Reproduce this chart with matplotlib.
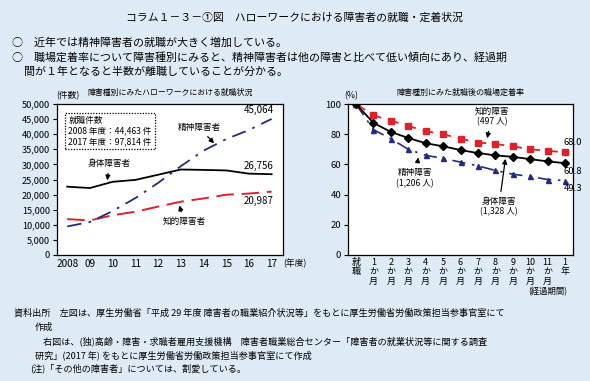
import matplotlib
matplotlib.use("Agg")
import matplotlib.pyplot as plt

plt.rcParams['font.family'] = ['Noto Sans CJK JP', 'DejaVu Sans']

W, H = 590, 381
BG = '#DEEAF6'
RED = '#E0202B'
NAVY = '#232A82'

# ---- data: left chart (件数) ----
years = ['2008', '09', '10', '11', '12', '13', '14', '15', '16', '17']
shintai = [22623, 22172, 24241, 24864, 26573, 28307, 28175, 28003, 26940, 26756]
chiteki = [11889, 11440, 13164, 14327, 16030, 17649, 18723, 19958, 20342, 20987]
seishin = [9456, 10929, 14555, 18845, 23861, 29404, 34538, 38396, 41367, 45064]
left_yticks = [0, 5000, 10000, 15000, 20000, 25000, 30000, 35000, 40000, 45000, 50000]

# ---- data: right chart (%) ----
periods = ['就\n職', '1\nか\n月', '2\nか\n月', '3\nか\n月', '4\nか\n月', '5\nか\n月',
           '6\nか\n月', '7\nか\n月', '8\nか\n月', '9\nか\n月', '10\nか\n月', '11\nか\n月', '1\n年']
r_chiteki = [100, 92.5, 89.0, 85.5, 82.0, 80.0, 77.0, 74.5, 73.5, 72.0, 70.0, 69.0, 68.0]
r_shintai = [100, 87.5, 81.5, 77.5, 74.0, 72.0, 69.5, 67.5, 66.0, 65.0, 63.5, 62.0, 60.8]
r_seishin = [100, 83.0, 77.0, 70.0, 66.0, 64.0, 61.5, 59.0, 56.0, 53.5, 52.0, 50.0, 49.3]
right_yticks = [0, 20, 40, 60, 80, 100]

fig = plt.figure(figsize=(W / 100, H / 100), dpi=100, facecolor=BG)


def px(x, y):
    return x / W, 1 - y / H


def t(x, y, s, **kw):
    kw.setdefault('fontsize', 7)
    kw.setdefault('va', 'center')
    fig.text(*px(x, y), s, **kw)


def add_ax(l, r, top, bot):
    return fig.add_axes([l / W, 1 - bot / H, (r - l) / W, (bot - top) / H])


# header texts
t(295, 17, 'コラム１－３－①図　ハローワークにおける障害者の就職・定着状況', fontsize=7.8, ha='center')
t(12, 43, '○　近年では精神障害者の就職が大きく増加している。', fontsize=7.9)
t(12, 57, '○　職場定着率について障害種別にみると、精神障害者は他の障害と比べて低い傾向にあり、経過期', fontsize=7.9)
t(24, 72, '間が１年となると半数が離職していることが分かる。', fontsize=7.9)

# footer texts
FS = 6.55
t(14, 313, '資料出所　左図は、厚生労働省「平成 29 年度 障害者の職業紹介状況等」をもとに厚生労働省労働政策担当参事官室にて', fontsize=FS)
t(35, 327, '作成', fontsize=FS)
t(43, 341, '右図は、(独)高齢・障害・求職者雇用支援機構　障害者職業総合センター「障害者の就業状況等に関する調査', fontsize=FS)
t(35, 355, '研究」(2017 年) をもとに厚生労働省労働政策担当参事官室にて作成', fontsize=FS)
t(30, 368, '(注)「その他の障害者」については、割愛している。', fontsize=FS)

arrow = dict(arrowstyle='-|>', color='black', lw=0.9, mutation_scale=7)

# ---------------- left chart ----------------
ax = add_ax(57, 283, 104, 255)
x = list(range(len(years)))
ax.plot(x, shintai, color='black', lw=1.3, ls='-')
ax.plot(x, chiteki, color=RED, lw=1.4, ls=(0, (9, 4)))
ax.plot(x, seishin, color=NAVY, lw=1.3, ls=(0, (8, 4, 1.5, 4)))
ax.set_xlim(-0.45, 9.5)
ax.set_ylim(0, 50000)
ax.set_yticks(left_yticks)
ax.set_yticklabels([f'{v:,}' for v in left_yticks], fontsize=6.6)
ax.set_xticks(x)
ax.set_xticklabels(years, fontsize=7.2)
ax.tick_params(axis='x', length=0, pad=3)
ax.tick_params(axis='y', length=3, pad=2, width=0.8)
for s in ax.spines.values():
    s.set_linewidth(0.9)
ax.set_facecolor('white')

t(68, 96, '(件数)', fontsize=6.3, ha='center')
t(170, 92, '障害種別にみたハローワークにおける就職状況', fontsize=5.7, ha='center')
t(295, 263, '(年度)', fontsize=6.3, ha='center')

# dotted info box
ax.text(0.05, 0.92, '就職件数\n2008 年度：44,463 件\n2017 年度：97,814 件', transform=ax.transAxes,
        fontsize=6.2, va='top', ha='left', linespacing=1.2,
        bbox=dict(boxstyle='square,pad=0.35', fc='white', ec='black', ls=(0, (1, 1.2)), lw=0.9))

ax.text(9.1, seishin[-1] + 2800, f'{seishin[-1]:,}', fontsize=7, ha='right', va='center')
ax.text(9.1, shintai[-1] + 2800, f'{shintai[-1]:,}', fontsize=7, ha='right', va='center')
ax.text(9.1, chiteki[-1] - 3200, f'{chiteki[-1]:,}', fontsize=7, ha='right', va='center')

ax.annotate('精神障害者', xy=(6.55, 36300), xytext=(5.8, 42300), fontsize=6.2, ha='center', va='center',
            arrowprops=arrow)
ax.annotate('身体障害者', xy=(1.75, 23800), xytext=(1.85, 30300), fontsize=6.2, ha='center', va='center',
            arrowprops=arrow)
ax.annotate('知的障害者', xy=(4.9, 17300), xytext=(5.15, 11000), fontsize=6.2, ha='center', va='center',
            arrowprops=arrow)

# ---------------- right chart ----------------
ax2 = add_ax(348, 573, 104, 255)
xr = list(range(len(periods)))
ax2.plot(xr, r_seishin, color=NAVY, lw=1.2, ls=(0, (8, 4, 1.5, 4)), marker='^', ms=3.6, mec=NAVY, mfc=NAVY)
ax2.plot(xr, r_chiteki, color=RED, lw=1.3, ls=(0, (6, 4)), marker='s', ms=4.6, mec=RED, mfc=RED)
ax2.plot(xr, r_shintai, color='black', lw=1.3, ls='-', marker='D', ms=4.2, mec='black', mfc='black')
ax2.set_xlim(-0.46, 12.46)
ax2.set_ylim(0, 100)
ax2.set_yticks(right_yticks)
ax2.set_yticklabels([str(v) for v in right_yticks], fontsize=6.8)
ax2.set_xticks(xr)
ax2.set_xticklabels(periods, fontsize=6.5, linespacing=1.05, va='top')
ax2.tick_params(axis='x', length=0, pad=2)
ax2.tick_params(axis='y', length=3, pad=2, width=0.8)
for s in ax2.spines.values():
    s.set_linewidth(0.9)
ax2.set_facecolor('white')

t(351, 96, '(%)', fontsize=6.3, ha='center')
t(460, 92, '障害種別にみた就職後の職場定着率', fontsize=5.8, ha='center')
t(548, 292, '(経過期間)', fontsize=6.0, ha='center')

ax2.text(12.45, r_chiteki[-1] + 6.5, f'{r_chiteki[-1]:.1f}', fontsize=6.8, ha='center', va='center')
ax2.text(12.45, r_shintai[-1] - 5.5, f'{r_shintai[-1]:.1f}', fontsize=6.8, ha='center', va='center')
ax2.text(12.45, r_seishin[-1] - 5.5, f'{r_seishin[-1]:.1f}', fontsize=6.8, ha='center', va='center')

ax2.annotate('知的障害\n(497 人)', xy=(7.5, 75.5), xytext=(7.8, 92), fontsize=6.2, ha='center', va='center',
             linespacing=1.2, arrowprops=arrow)
ax2.annotate('精神障害\n(1,206 人)', xy=(3.6, 66.5), xytext=(3.4, 51), fontsize=6.2, ha='center', va='center',
             linespacing=1.2, arrowprops=arrow)
ax2.annotate('身体障害\n(1,328 人)', xy=(8.6, 65.5), xytext=(8.2, 32), fontsize=6.2, ha='center', va='center',
             linespacing=1.2, arrowprops=arrow)

fig.savefig('out.png', dpi=100, facecolor=BG)
